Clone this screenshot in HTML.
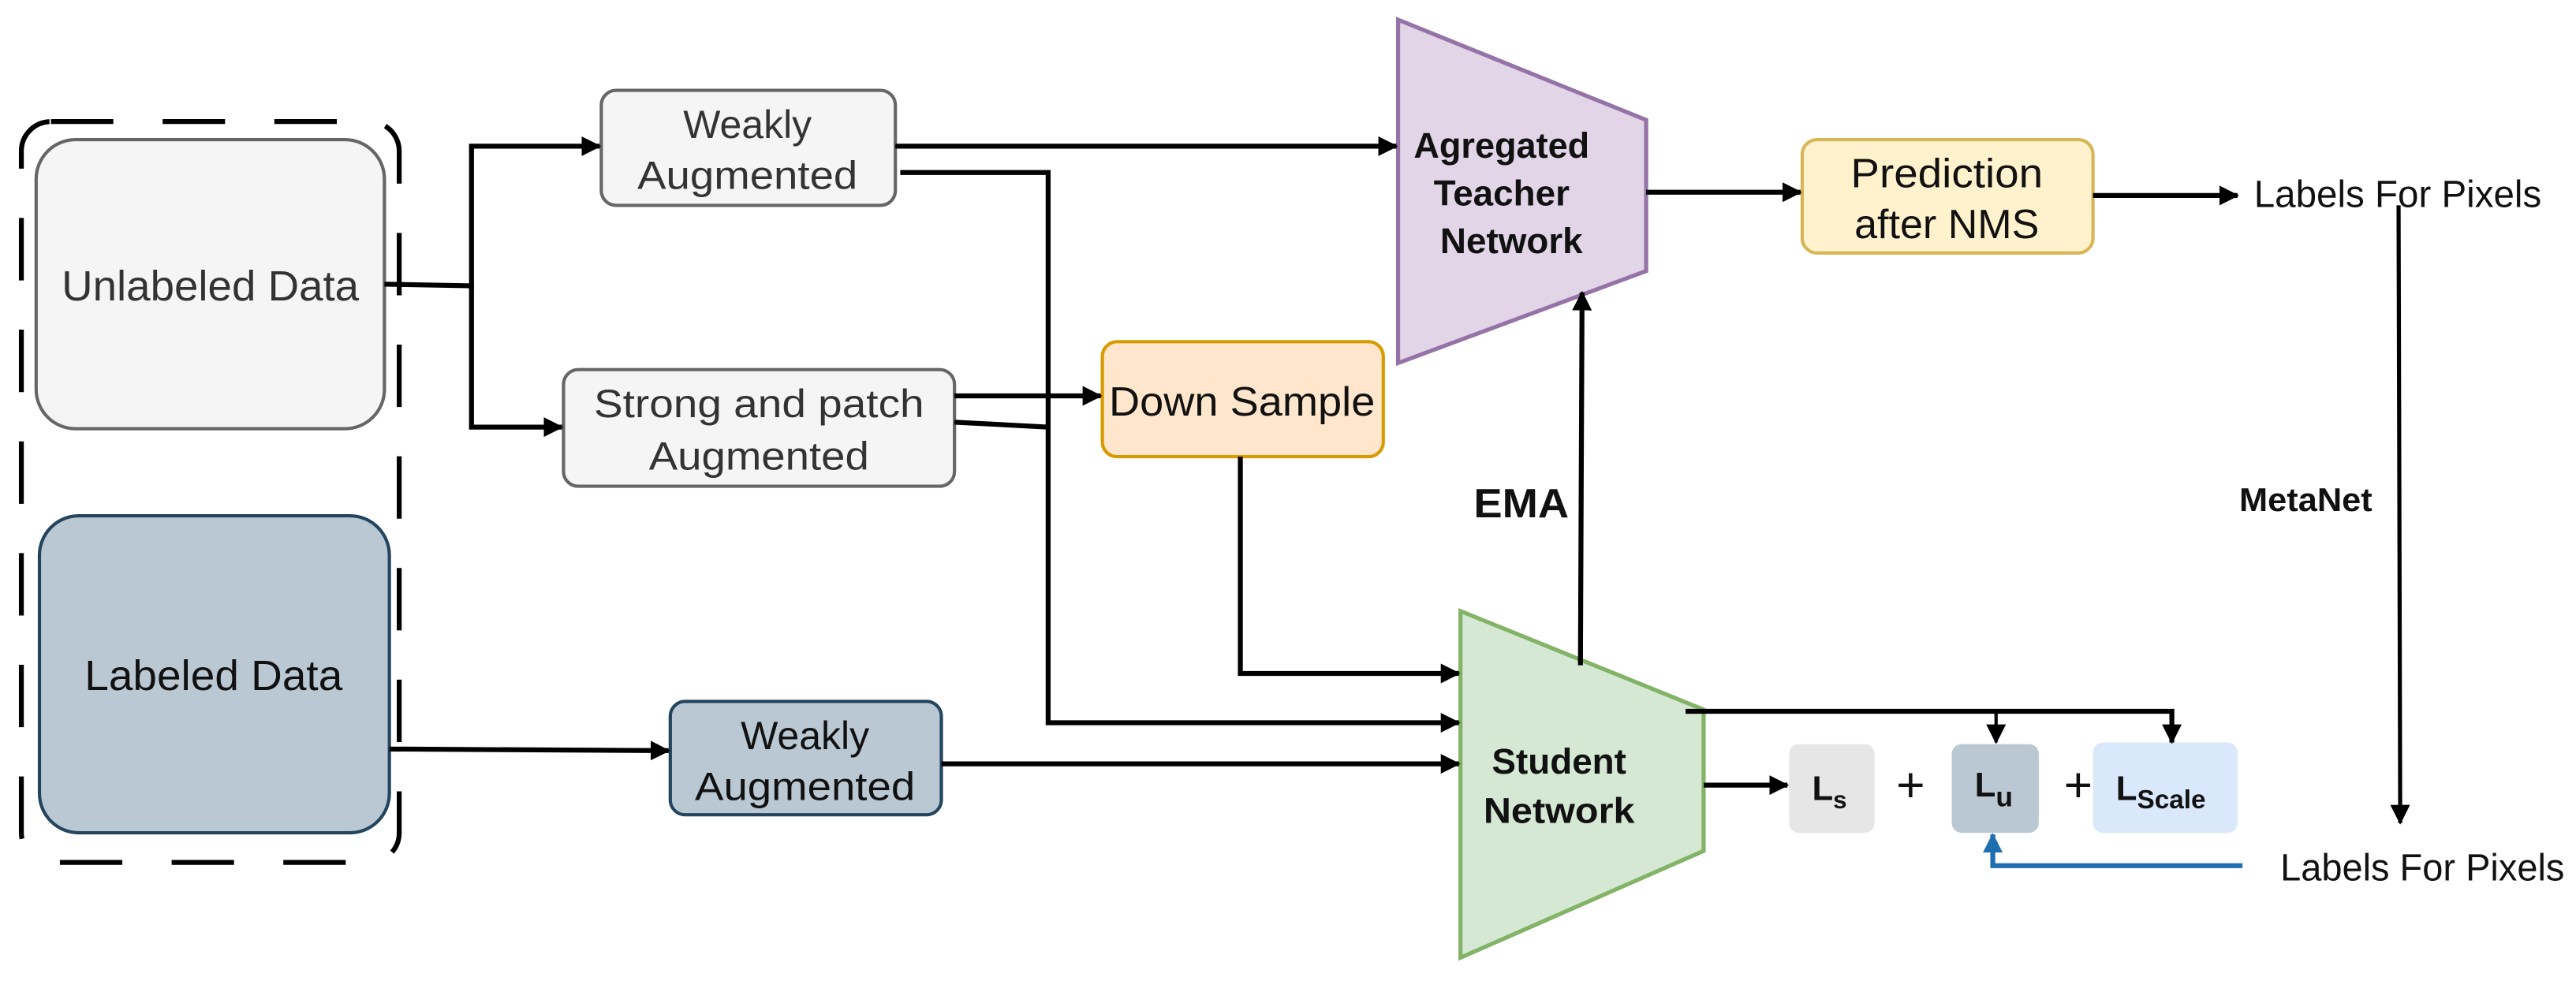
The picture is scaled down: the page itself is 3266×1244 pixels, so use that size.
<!DOCTYPE html>
<html><head><meta charset="utf-8"><style>
html,body{margin:0;padding:0;background:#fff;}
svg{display:block;}
text{font-family:"Liberation Sans",sans-serif;}
</style></head><body>
<svg width="3266" height="1244" viewBox="0 0 1568 597.2" xmlns="http://www.w3.org/2000/svg">
<defs>
<marker id="a" markerWidth="12" markerHeight="12" refX="11" refY="6" orient="auto" markerUnits="userSpaceOnUse"><path d="M0,0 L12,6 L0,12 Z" fill="#000"/></marker>
<marker id="b" markerWidth="12" markerHeight="12" refX="11" refY="6" orient="auto" markerUnits="userSpaceOnUse"><path d="M0,0 L12,6 L0,12 Z" fill="#1f6fb0"/></marker>
</defs>
<rect x="13" y="74" width="230" height="451" rx="18" fill="none" stroke="#000" stroke-width="3" stroke-dasharray="38,30"/>
<rect x="22" y="85" width="212" height="176" rx="24" fill="#f5f5f5" stroke="#666" stroke-width="2"/>
<text x="128" y="183" font-size="26" fill="#333" text-anchor="middle" textLength="181" lengthAdjust="spacingAndGlyphs">Unlabeled Data</text>
<rect x="24" y="314" width="213" height="193" rx="24" fill="#bac8d3" stroke="#23445d" stroke-width="2"/>
<text x="130" y="420" font-size="26" fill="#111" text-anchor="middle" textLength="157" lengthAdjust="spacingAndGlyphs">Labeled Data</text>
<rect x="366" y="55" width="179" height="70" rx="9" fill="#f5f5f5" stroke="#666" stroke-width="2"/>
<text x="455" y="84" font-size="24" fill="#333" text-anchor="middle">Weakly</text>
<text x="455" y="115" font-size="24" fill="#333" text-anchor="middle" textLength="134" lengthAdjust="spacingAndGlyphs">Augmented</text>
<rect x="343" y="225" width="238" height="71" rx="9" fill="#f5f5f5" stroke="#666" stroke-width="2"/>
<text x="462" y="254" font-size="24" fill="#333" text-anchor="middle" textLength="201" lengthAdjust="spacingAndGlyphs">Strong and patch</text>
<text x="462" y="286" font-size="24" fill="#333" text-anchor="middle" textLength="134" lengthAdjust="spacingAndGlyphs">Augmented</text>
<rect x="408" y="427" width="165" height="69" rx="9" fill="#bac8d3" stroke="#23445d" stroke-width="2"/>
<text x="490" y="456" font-size="24" fill="#111" text-anchor="middle">Weakly</text>
<text x="490" y="487" font-size="24" fill="#111" text-anchor="middle" textLength="134" lengthAdjust="spacingAndGlyphs">Augmented</text>
<rect x="671" y="208" width="171" height="70" rx="9" fill="#ffe6cc" stroke="#d79b00" stroke-width="2"/>
<text x="756" y="253" font-size="25" fill="#111" text-anchor="middle" textLength="162" lengthAdjust="spacingAndGlyphs">Down Sample</text>
<path d="M851,12 L1002,73 L1002,165 L851,221 Z" fill="#e1d5e7" stroke="#9673a6" stroke-width="2.5"/>
<text x="914" y="96" font-size="22" font-weight="bold" fill="#111" text-anchor="middle" textLength="107" lengthAdjust="spacingAndGlyphs">Agregated</text>
<text x="914" y="125" font-size="22" font-weight="bold" fill="#111" text-anchor="middle">Teacher</text>
<text x="920" y="154" font-size="22" font-weight="bold" fill="#111" text-anchor="middle">Network</text>
<rect x="1097" y="85" width="177" height="69" rx="9" fill="#fff2cc" stroke="#d6b656" stroke-width="2"/>
<text x="1185" y="114" font-size="25" fill="#111" text-anchor="middle" textLength="117" lengthAdjust="spacingAndGlyphs">Prediction</text>
<text x="1185" y="145" font-size="25" fill="#111" text-anchor="middle">after NMS</text>
<path d="M889,372 L1037,432 L1037,518 L889,583 Z" fill="#d5e8d4" stroke="#82b366" stroke-width="2.5"/>
<text x="949" y="471" font-size="22" font-weight="bold" fill="#111" text-anchor="middle">Student</text>
<text x="949" y="501" font-size="22" font-weight="bold" fill="#111" text-anchor="middle" textLength="92" lengthAdjust="spacingAndGlyphs">Network</text>
<rect x="1089" y="453" width="52" height="54" rx="6" fill="#e6e6e6"/>
<text x="1103" y="487" font-size="21" font-weight="bold" fill="#111">L<tspan font-size="15" dy="5">s</tspan></text>
<text x="1163" y="488" font-size="30" fill="#111" text-anchor="middle">+</text>
<rect x="1188" y="453" width="53" height="54" rx="6" fill="#bac8d3"/>
<text x="1202" y="485" font-size="21" font-weight="bold" fill="#111">L<tspan font-size="17" dy="6">u</tspan></text>
<text x="1265" y="488" font-size="30" fill="#111" text-anchor="middle">+</text>
<rect x="1274" y="452" width="88" height="55" rx="6" fill="#dae8fc"/>
<text x="1288" y="487" font-size="21" font-weight="bold" fill="#111">L<tspan font-size="16" dy="5">Scale</tspan></text>
<text x="1372" y="126" font-size="23" fill="#111" textLength="175" lengthAdjust="spacingAndGlyphs">Labels For Pixels</text>
<text x="1388" y="536" font-size="23" fill="#111" textLength="173" lengthAdjust="spacingAndGlyphs">Labels For Pixels</text>
<text x="1363" y="311" font-size="20" font-weight="bold" fill="#111" textLength="81" lengthAdjust="spacingAndGlyphs">MetaNet</text>
<text x="897" y="315" font-size="25" font-weight="bold" fill="#111" textLength="58" lengthAdjust="spacingAndGlyphs">EMA</text>
<g fill="none" stroke="#000" stroke-width="3">
<path d="M234,173 L287,174 L287,89 L365,89" marker-end="url(#a)"/>
<path d="M287,174 L287,260 L342,260" marker-end="url(#a)"/>
<path d="M545,89 L850,89" marker-end="url(#a)"/>
<path d="M548,105 L638,105 L638,440 L888,440" marker-end="url(#a)"/>
<path d="M581,241 L670,241" marker-end="url(#a)"/>
<path d="M581,257 L638,260"/>
<path d="M755,278 L755,410 L888,410" marker-end="url(#a)"/>
<path d="M573,465 L888,465" marker-end="url(#a)"/>
<path d="M237,456 L407,457" marker-end="url(#a)"/>
<path d="M962,405 L963,178" marker-end="url(#a)"/>
<path d="M1002,117 L1096,117" marker-end="url(#a)"/>
<path d="M1274,119 L1362,119" marker-end="url(#a)"/>
<path d="M1026,433 L1322,433 L1322,452" marker-end="url(#a)"/>
<path d="M1215,433 L1215,452" marker-end="url(#a)" stroke-width="2"/>
<path d="M1037,478 L1088,478" marker-end="url(#a)"/>
<path d="M1460,125 L1461,501" marker-end="url(#a)" stroke-width="2.5"/>
<path d="M1365,527 L1213,527 L1213,508" stroke="#1f6fb0" marker-end="url(#b)"/>
</g>
</svg>
</body></html>
